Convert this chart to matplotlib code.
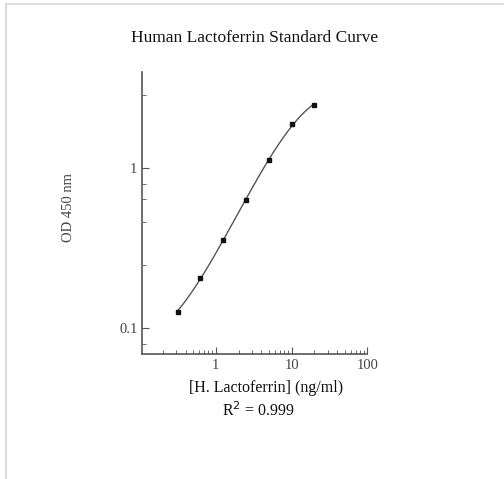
import numpy as np
import matplotlib.pyplot as plt
from matplotlib.ticker import FixedLocator, NullFormatter, FixedFormatter
from matplotlib.lines import Line2D

plt.rcParams['font.family'] = ['Liberation Serif', 'DejaVu Serif']

# standard curve data
conc = [0.3125, 0.625, 1.25, 2.5, 5, 10, 20]        # ng/ml
od = [0.127, 0.207, 0.355, 0.63, 1.12, 1.88, 2.5]   # OD 450 nm

x_major = [1, 10, 100]
x_major_labels = ["1", "10", "100"]
y_major = [0.1, 1]
y_major_labels = ["0.1", "1"]
y_minor = [0.08, 0.25, 0.46, 0.64, 0.8, 2.87]

fig = plt.figure(figsize=(5.04, 4.79), dpi=100)
ax = fig.add_axes([0.281, 0.261, 0.448, 0.589])

# smooth fit through the points in log-log space
lx = np.log10(conc)
ly = np.log10(od)
coef = np.polyfit(lx, ly, 3)
xs = np.linspace(lx[0], lx[-1], 200)
ax.plot(10 ** xs, 10 ** np.polyval(coef, xs), color="#555555", lw=1.0)
ax.plot(conc, od, "s", color="#111111", ms=3.5)

ax.set_xscale("log")
ax.set_yscale("log")
ax.set_xlim(0.105, 100)
ax.set_ylim(0.069, 4.0)

ax.spines["top"].set_visible(False)
ax.spines["right"].set_visible(False)
for s in ("left", "bottom"):
    ax.spines[s].set_color("#555555")
    ax.spines[s].set_linewidth(1.2)

ax.xaxis.set_major_locator(FixedLocator(x_major))
ax.xaxis.set_major_formatter(FixedFormatter(x_major_labels))
ax.xaxis.set_minor_locator(FixedLocator(
    [m * d for d in (0.1, 1, 10) for m in range(2, 10)]))
ax.xaxis.set_minor_formatter(NullFormatter())
ax.yaxis.set_major_locator(FixedLocator(y_major))
ax.yaxis.set_major_formatter(FixedFormatter(y_major_labels))
ax.yaxis.set_minor_locator(FixedLocator(y_minor))
ax.yaxis.set_minor_formatter(NullFormatter())

ax.tick_params(which="both", direction="in", color="#555555", labelsize=10.5,
               labelcolor="#444444")
ax.tick_params(which="major", length=5)
ax.tick_params(which="minor", length=3)
ax.tick_params(axis="y", pad=3)

fig.text(0.506, 0.921, "Human Lactoferrin Standard Curve", ha="center",
         va="center", fontsize=12.5, color="#111111")
fig.text(0.528, 0.190, "[H. Lactoferrin] (ng/ml)", ha="center", va="center",
         fontsize=11.5, color="#111111")
fig.text(0.513, 0.143, "R$^2$ = 0.999", ha="center", va="center",
         fontsize=11.5, color="#111111")
fig.text(0.135, 0.566, "OD 450 nm", ha="center", va="center", rotation=90,
         fontsize=10.5, color="#444444")

# light frame at top and left edges
fig.add_artist(Line2D([0.011, 1.0], [0.991, 0.991], color="#dddddd", lw=1.5,
                      transform=fig.transFigure))
fig.add_artist(Line2D([0.011, 0.011], [0.0, 0.991], color="#dddddd", lw=1.5,
                      transform=fig.transFigure))

fig.savefig("out.png", dpi=100)
